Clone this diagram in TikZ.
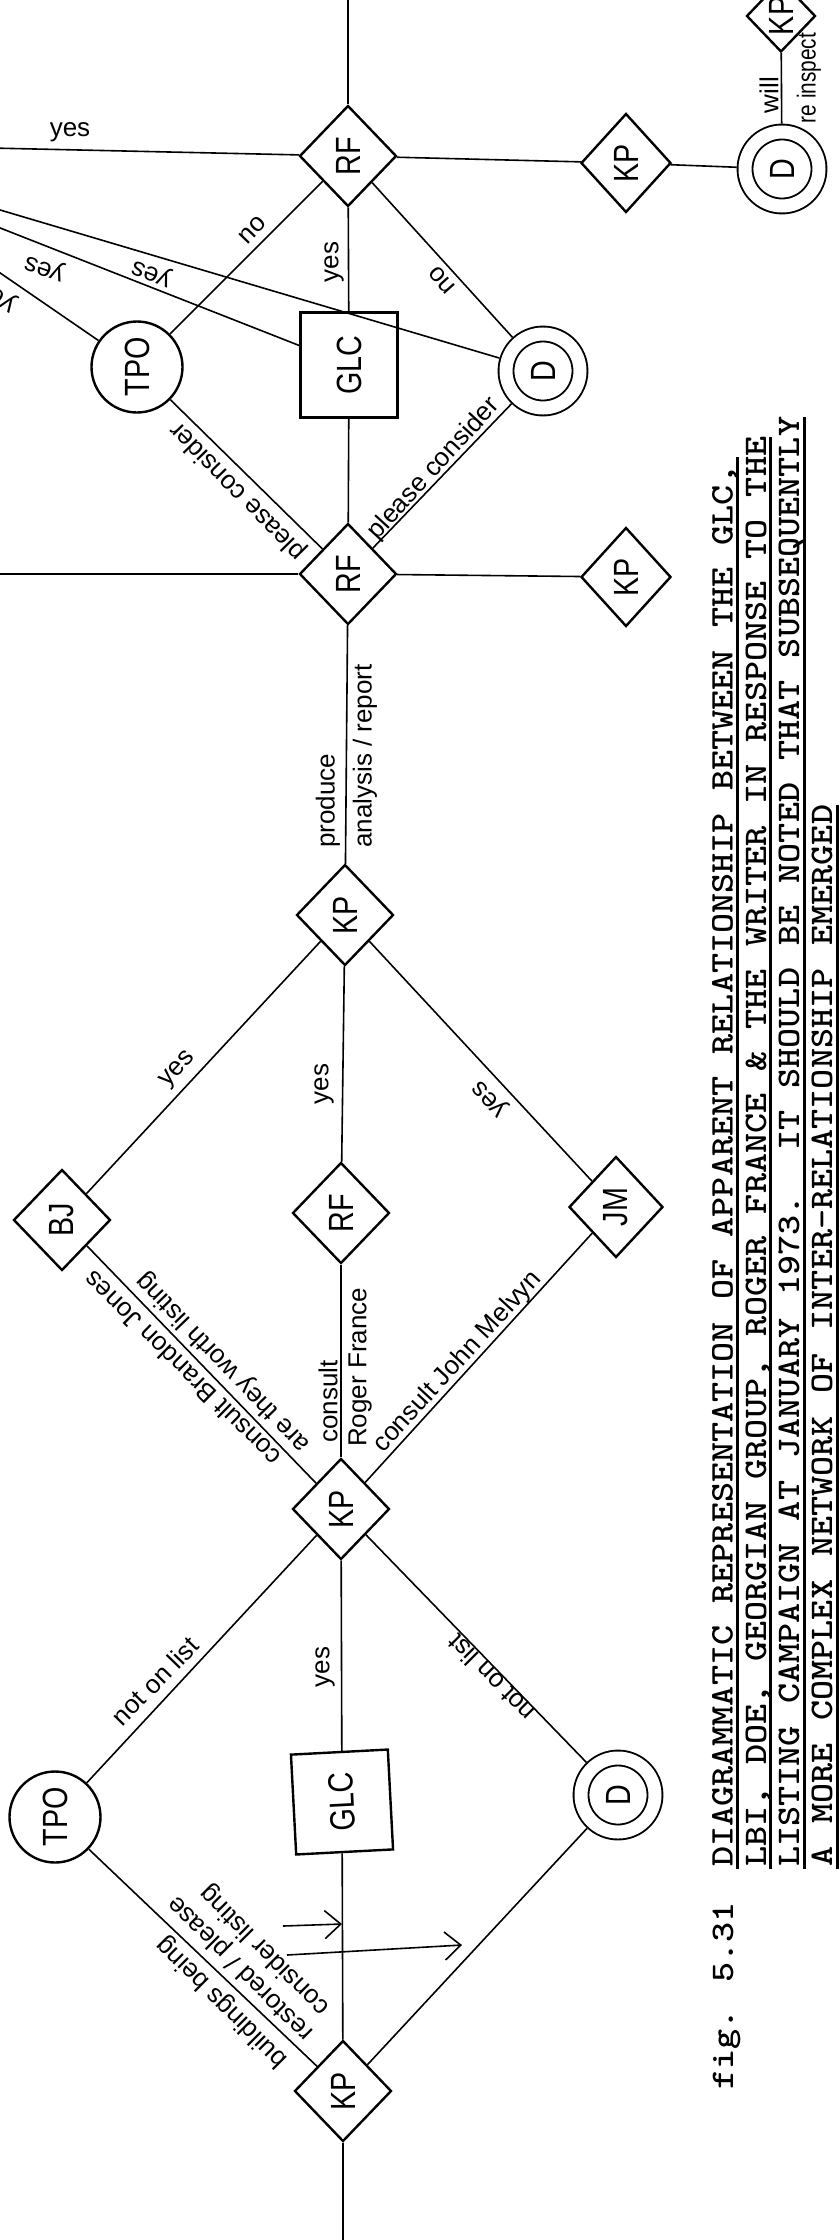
\documentclass[tikz,border=0pt]{standalone}
\usepackage{fontspec}
\setmainfont{Liberation Sans}
\usepackage{graphicx}
\usetikzlibrary{shapes.geometric,arrows.meta}
\newcommand\nlab[1]{\scalebox{0.82}[1]{#1}}
\newcommand\capline[2]{\scalebox{1.16}[1]{\makebox[#1pt][l]{#2}}}
\begin{document}
\begin{tikzpicture}[x=1pt,y=-1pt,
  conn/.style={line width=1.6pt},
  nfont/.style={font=\fontsize{35}{40}\selectfont},
  dia/.style={diamond, draw, line width=2.4pt, inner sep=0pt, rotate=90, nfont, minimum width=101pt, minimum height=97pt},
  sdia/.style={dia, minimum width=72pt, minimum height=69pt},
  circ/.style={circle, draw, line width=2.4pt, inner sep=0pt, rotate=90, nfont, minimum size=91pt},
  dcirc/.style={circle, draw, line width=1.9pt, double, double distance=13pt, inner sep=0pt, outer sep=8.4pt, rotate=90, nfont, minimum size=74pt},
  glcbox/.style={rectangle, draw, line width=2.4pt, inner sep=0pt, rotate=90, nfont, minimum width=105pt, minimum height=97pt},
  lab/.style={font=\fontsize{26}{30}\selectfont, inner sep=0pt},
  captext/.style={font=\fontsize{33}{36}\selectfont\ttfamily\bfseries, inner sep=0pt, rotate=90, anchor=base west},
  barb/.style={conn, -{Straight Barb[length=16pt,width=28pt]}}
]
\fill[white] (0,0) rectangle (839,2240);
\useasboundingbox (0,0) rectangle (839,2240);
\clip (0,0) rectangle (839,2240);

% nodes
\node[dia] (rf1) at (348,156) {\nlab{RF}};
\node[dia, minimum height=90pt, minimum width=99pt] (kp1) at (626,163) {\nlab{KP}};
\node[dcirc] (d3) at (782,169) {\nlab{D}};
\node[sdia] (kps) at (781,16) {\nlab{KP}};
\node[circ] (tpo1) at (137,367) {\nlab{TPO}};
\node[glcbox] (glc1) at (349,365) {\nlab{GLC}};
\node[dcirc] (d1) at (543,371) {\nlab{D}};
\node[dia] (rf2) at (348,574) {\nlab{RF}};
\node[dia, minimum height=90pt, minimum width=99pt] (kp2) at (626,577) {\nlab{KP}};
\node[dia] (kp3) at (345,915) {\nlab{KP}};
\node[dia] (bj) at (62,1220) {\nlab{BJ}};
\node[dia] (rf3) at (341,1213) {\nlab{RF}};
\node[dia, minimum height=94pt] (jm) at (616,1207) {\nlab{JM}};
\node[dia] (kp4) at (341,1509) {\nlab{KP}};
\node[circ] (tpo2) at (55,1817) {\nlab{TPO}};
\node[glcbox, rotate=3, minimum width=100pt] (glc2) at (342,1802) {\nlab{GLC}};
\node[dcirc] (d2) at (618,1795) {\nlab{D}};
\node[dia] (kp5) at (343,2091) {\nlab{KP}};

% free ends
\coordinate (top) at (348,-10);
\coordinate (yesL) at (-10,148);
\coordinate (aL) at (-10,207);
\coordinate (bL) at (-10,224);
\coordinate (cL) at (-10,266);
\coordinate (rftwoL) at (-10,574);
\coordinate (bot) at (343,2250);

% connectors
\draw[conn] (top) -- (rf1);
\draw[conn] (yesL) -- (rf1);
\draw[conn] (aL) -- (d1);
\draw[conn] (bL) -- (glc1);
\draw[conn] (cL) -- (tpo1);
\draw[conn] (rf1) -- (kp1);
\draw[conn] (kp1) -- (d3);
\draw[conn] (d3) -- (kps);
\draw[conn] (rf1) -- (tpo1);
\draw[conn] (rf1) -- (glc1);
\draw[conn] (rf1) -- (d1);
\draw[conn] (tpo1) -- (rf2);
\draw[conn] (glc1) -- (rf2);
\draw[conn] (d1) -- (rf2);
\draw[conn] (rftwoL) -- (rf2);
\draw[conn] (rf2) -- (kp2);
\draw[conn] (rf2) -- (kp3);
\draw[conn] (kp3) -- (bj);
\draw[conn] (kp3) -- (rf3);
\draw[conn] (kp3) -- (jm);
\draw[conn] (bj) -- (kp4);
\draw[conn] (rf3) -- (kp4);
\draw[conn] (jm) -- (kp4);
\draw[conn] (kp4) -- (tpo2);
\draw[conn] (kp4) -- (glc2);
\draw[conn] (kp4) -- (d2);
\draw[conn] (tpo2) -- (kp5);
\draw[conn] (glc2) -- (kp5);
\draw[conn] (d2) -- (kp5);
\draw[conn] (kp5) -- (bot);

% arrows
\coordinate (aronestart) at (283,1926);
\coordinate (aroneend) at (342,1924);
\coordinate (artwostart) at (287,1955);
\coordinate (artwoend) at (462,1945);
\draw[barb] (aronestart) -- (aroneend);
\draw[barb] (artwostart) -- (artwoend);

% labels
\node[lab] (l1) at (70,132) {yes};
\node[lab, rotate=158] (l2) at (152,272) {yes};
\node[lab, rotate=160] (l3) at (45,267) {yes};
\node[lab, rotate=145] (l4) at (-2,294) {yes};
\node[lab, rotate=46] (l5) at (253,230) {no};
\node[lab, rotate=90] (l6) at (334,262) {yes};
\node[lab, rotate=132] (l7) at (442,280) {no};
\node[lab, rotate=134.5] (l8) at (238,491) {please consider};
\node[lab, rotate=47.5] (l9) at (434,469) {please consider};
\node[lab, rotate=90, anchor=west] (l10) at (328,848) {produce};
\node[lab, rotate=90, anchor=west] (l11) at (365,848) {analysis / report};
\node[lab, rotate=47] (l12) at (178,1070) {yes};
\node[lab, rotate=90] (l13) at (324,1084) {yes};
\node[lab, rotate=133] (l14) at (491,1098) {yes};
\node[lab, rotate=135.5] (l15) at (182,1369) {consult Brandon Jones};
\node[lab, rotate=134] (l16) at (223,1362) {are they worth listing};
\node[lab, rotate=90, anchor=west] (l17) at (328,1443) {consult};
\node[lab, rotate=90, anchor=west] (l18) at (360,1447) {Roger France};
\node[lab, rotate=47.5] (l19) at (458,1362) {consult John Melvyn};
\node[lab, rotate=45.7] (l20) at (155,1681) {not on list};
\node[lab, rotate=90] (l21) at (325,1667) {yes};
\node[lab, rotate=135] (l22) at (491,1678) {not on list};
\node[lab, rotate=135] (l23) at (222,2002) {buildings being};
\node[lab, rotate=135] (l24) at (241,1968) {restored / please};
\node[lab, rotate=135] (l25) at (265,1950) {consider listing};
\node[lab, rotate=90] (l26) at (769,95) {will};
\node[lab, rotate=90] (l27) at (809,78) {\scalebox{0.8}[1]{re inspect}};

% caption
\node[captext] (c1) at (732.5,1867) {\capline{1208.6}{DIAGRAMMATIC~\hfill REPRESENTATION~\hfill OF~\hfill APPARENT~\hfill RELATIONSHIP~\hfill BETWEEN~\hfill THE~\hfill GLC,}};
\node[captext] (c2) at (766,1867) {\capline{1232.8}{LBI,~\hfill DOE,~\hfill GEORGIAN~\hfill GROUP,~\hfill ROGER~\hfill FRANCE~\hfill \&~\hfill THE~\hfill WRITER~\hfill IN~\hfill RESPONSE~\hfill TO~\hfill THE}};
\node[captext] (c3) at (799,1867) {\capline{1250}{LISTING~\hfill CAMPAIGN~\hfill AT~\hfill JANUARY~\hfill 1973.~~\hfill\hfill IT~\hfill SHOULD~\hfill BE~\hfill NOTED~\hfill THAT~\hfill SUBSEQUENTLY}};
\node[captext] (c4) at (832,1867) {\capline{915.5}{A~\hfill MORE~\hfill COMPLEX~\hfill NETWORK~\hfill OF~\hfill INTER-RELATIONSHIP~\hfill EMERGED}};
\node[captext] (fig) at (733,2090) {\scalebox{1.16}[1]{fig. 5.31}};
\draw[line width=3pt] (737,1869) -- (737,457);
\draw[line width=3pt] (770.5,1869) -- (770.5,437);
\draw[line width=3pt] (804,1869) -- (804,417);
\draw[line width=3pt] (837,1869) -- (837,805);
\end{tikzpicture}
\end{document}
